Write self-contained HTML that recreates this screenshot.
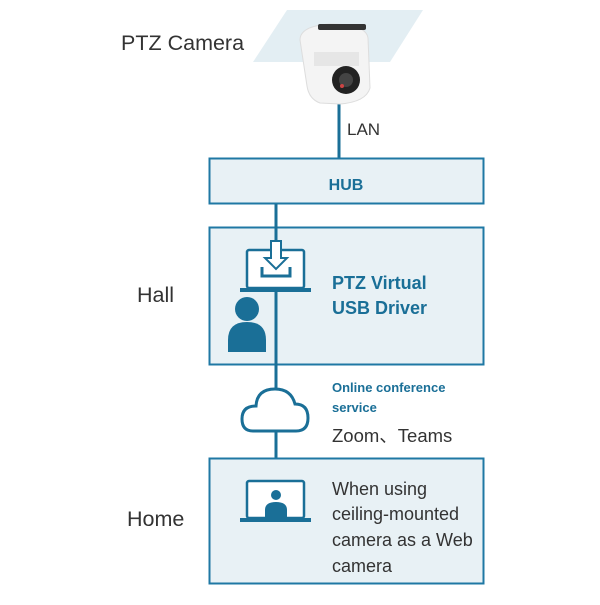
<!DOCTYPE html>
<html><head><meta charset="utf-8"><style>
body{margin:0;background:#fff;width:600px;height:600px;overflow:hidden}
svg text{font-family:"Liberation Sans",sans-serif}
</style></head><body>
<svg width="600" height="600" viewBox="0 0 600 600" xmlns="http://www.w3.org/2000/svg">
<rect width="600" height="600" fill="#fff"/>
<polygon points="287,10 423,10 390,62 253,62" fill="#e3eef3"/>
<text x="121" y="50" font-size="21.5" fill="#333">PTZ Camera</text>
<line x1="339" y1="95" x2="339" y2="158" stroke="#1a6f97" stroke-width="3"/>
<path d="M300,40 Q300,26 330,24 Q366,24 368,38 L370,88 Q366,102 340,104 L320,103 Q309,99 307,86 Z" fill="#f4f4f4" stroke="#ddd"/>
<rect x="318" y="24" width="48" height="6" fill="#333" rx="2"/>
<rect x="314" y="52" width="45" height="14" fill="#e6e6e6"/>
<circle cx="346" cy="80" r="14" fill="#222"/>
<circle cx="346" cy="80" r="7" fill="#444"/>
<circle cx="342" cy="86" r="2" fill="#c44"/>
<text x="347" y="135" font-size="17" fill="#333">LAN</text>
<rect x="209.5" y="158.5" width="274" height="45" fill="#e8f1f5" stroke="#1f78a4" stroke-width="2"/>
<text x="346" y="190" font-size="16" font-weight="bold" fill="#1a6f97" text-anchor="middle">HUB</text>
<rect x="209.5" y="227.5" width="274" height="137" fill="#e8f1f5" stroke="#1f78a4" stroke-width="2"/>
<text x="137" y="302" font-size="21.5" fill="#333">Hall</text>
<line x1="276" y1="204" x2="276" y2="480" stroke="#1a6f97" stroke-width="3"/>
<rect x="247" y="250" width="57" height="38" fill="#fff" stroke="#1a6f97" stroke-width="2.5" rx="2"/>
<rect x="240" y="288" width="71" height="4" fill="#1a6f97"/>
<path d="M271,241 L281,241 L281,258 L287,258 L276,269 L265,258 L271,258 Z" fill="#fff" stroke="#1a6f97" stroke-width="2"/>
<path d="M262,267 L262,276 L290,276 L290,267" fill="none" stroke="#1a6f97" stroke-width="3"/>
<circle cx="247" cy="309" r="12" fill="#1a6f97"/>
<path d="M228,352 L228,340 Q228,322 247,322 Q266,322 266,340 L266,352 Z" fill="#1a6f97"/>
<text x="332" y="289" font-size="18" font-weight="bold" fill="#1a6f97">PTZ Virtual</text>
<text x="332" y="314" font-size="18" font-weight="bold" fill="#1a6f97">USB Driver</text>
<path d="M253,431 Q242,431 242,419 Q242,406 256,406 Q257,389 275,389 Q291,389 295,404 Q308,404 308,418 Q308,431 296,431 Z" fill="#fff" stroke="#1a6f97" stroke-width="3"/>
<text x="332" y="392" font-size="13" font-weight="bold" fill="#1a6f97">Online conference</text>
<text x="332" y="412" font-size="13" font-weight="bold" fill="#1a6f97">service</text>
<text x="332" y="442" font-size="18.5" fill="#333">Zoom、Teams</text>
<rect x="209.5" y="458.5" width="274" height="125" fill="#e8f1f5" stroke="#1f78a4" stroke-width="2"/>
<text x="127" y="526" font-size="21.5" fill="#333">Home</text>
<rect x="247" y="481" width="57" height="37" fill="#fff" stroke="#1a6f97" stroke-width="2.5" rx="2"/>
<rect x="240" y="518" width="71" height="4" fill="#1a6f97"/>
<circle cx="276" cy="495" r="5" fill="#1a6f97"/>
<path d="M265,517 L265,510 Q265,502 276,502 Q287,502 287,510 L287,517 Z" fill="#1a6f97"/>
<g font-size="18" fill="#333">
<text x="332" y="495">When using</text>
<text x="332" y="520">ceiling-mounted</text>
<text x="332" y="546">camera as a Web</text>
<text x="332" y="572">camera</text>
</g>
</svg>
</body></html>
